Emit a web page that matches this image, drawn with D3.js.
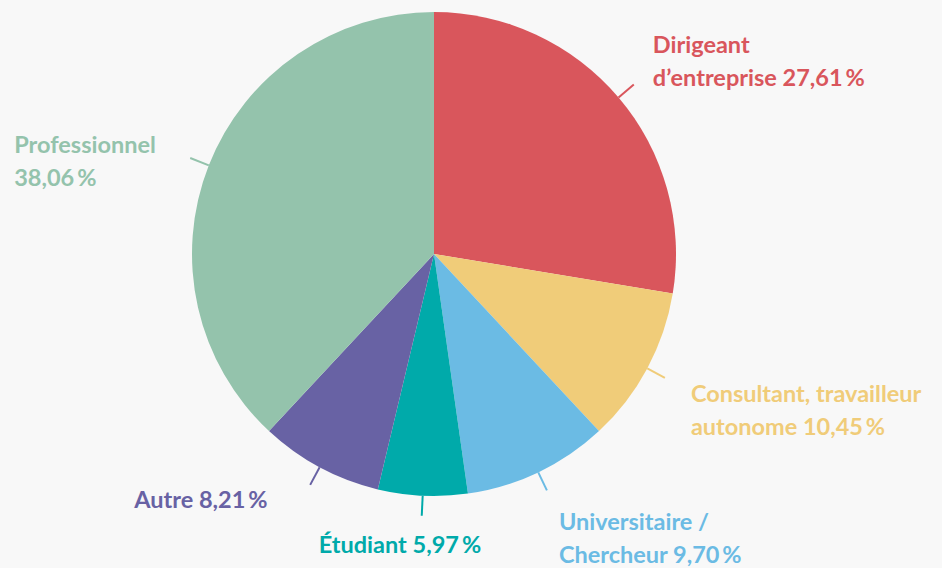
<!DOCTYPE html>
<html>
<head>
<meta charset="utf-8">
<script src="https://cdn.jsdelivr.net/npm/d3@7"></script>
<style>
  html, body { margin: 0; padding: 0; background: #f8f8f8; }
  text { font-family: Lato, "Open Sans", sans-serif; font-weight: 700; font-size: 23.5px; }
</style>
</head>
<body>
<script>
    // data, clockwise from 12 o'clock
    var categories = ["Dirigeant d\u2019entreprise", "Consultant, travailleur autonome", "Universitaire / Chercheur", "\u00c9tudiant", "Autre", "Professionnel"];
    var values = [27.61, 10.45, 9.70, 5.97, 8.21, 38.06];
    var colors = ["#d9565c", "#f0cc79", "#6bbbe4", "#00aaaa", "#6862a4", "#94c3ac"];
    // label lines (text before the value goes on line 1 / line 2)
    var labelLines = [
      ["Dirigeant", "d\u2019entreprise "],
      ["Consultant, travailleur", "autonome "],
      ["Universitaire /", "Chercheur "],
      ["\u00c9tudiant "],
      ["Autre "],
      ["Professionnel", ""]
    ];

    var width = 942, height = 568;
    var cx = 434, cy = 254, radius = 242;

    // label anchor offsets from the end of each leader line
    var labelOffset = [[19, -32], [26, 24], [12, 40], [-103, 37], [-176, 23], [-176, -5]];

    var svg = d3.select("body").append("svg")
      .attr("width", width)
      .attr("height", height)
    .append("g")
      .attr("transform", "translate(" + cx + "," + cy + ")");

    var pie = d3.pie().sort(null).value(function(d) { return d; });
    var arcs = pie(values);

    var arc = d3.arc().innerRadius(0).outerRadius(radius);
    var tickInner = d3.arc().innerRadius(radius).outerRadius(radius);
    var tickOuter = d3.arc().innerRadius(radius + 20).outerRadius(radius + 20);

    //slices
    svg.selectAll("path.slice")
      .data(arcs)
      .enter().append("path")
      .attr("class", "slice")
      .attr("fill", function(d, i) { return colors[i]; })
      .attr("d", arc);

    //leader lines
    svg.selectAll("line.tick")
      .data(arcs)
      .enter().append("line")
      .attr("class", "tick")
      .attr("x1", function(d) { return tickInner.centroid(d)[0]; })
      .attr("y1", function(d) { return tickInner.centroid(d)[1]; })
      .attr("x2", function(d) { return tickOuter.centroid(d)[0]; })
      .attr("y2", function(d) { return tickOuter.centroid(d)[1]; })
      .attr("stroke", function(d, i) { return colors[i]; })
      .attr("stroke-width", 2);

    function fmt(v) {
      return v.toFixed(2).replace(".", ",") + "\u2009%";
    }

    //labels
    var labels = svg.selectAll("text.label")
      .data(arcs)
      .enter().append("text")
      .attr("class", "label")
      .attr("fill", function(d, i) { return colors[i]; })
      .attr("transform", function(d, i) {
        var p = tickOuter.centroid(d);
        return "translate(" + (p[0] + labelOffset[i][0]) + "," + (p[1] + labelOffset[i][1]) + ")";
      });

    labels.each(function(d, i) {
      var t = d3.select(this);
      var lines = labelLines[i];
      lines.forEach(function(l, j) {
        var s = (j === lines.length - 1) ? l + fmt(values[i]) : l;
        t.append("tspan")
          .attr("x", 0)
          .attr("y", j * 33)
          .text(s);
      });
    });
</script>
</body>
</html>
